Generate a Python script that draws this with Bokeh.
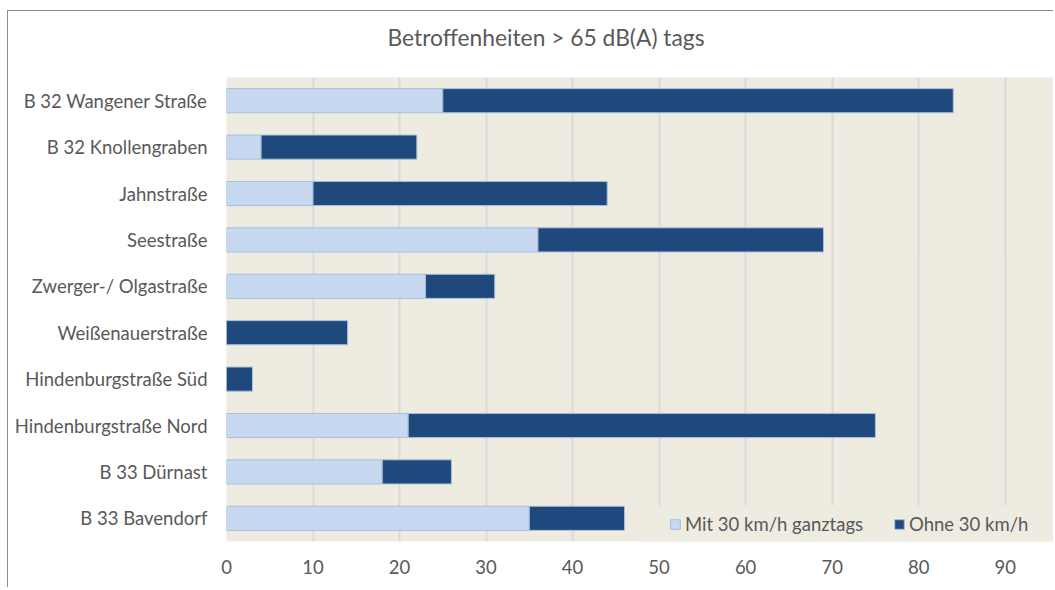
from bokeh.plotting import figure
from bokeh.models import Legend, FactorRange, Range1d, FixedTicker, BoxAnnotation, Title
from bokeh.embed import file_html
from bokeh.resources import INLINE

categories = ["B 32 Wangener Straße", "B 32 Knollengraben", "Jahnstraße", "Seestraße",
              "Zwerger-/ Olgastraße", "Weißenauerstraße", "Hindenburgstraße Süd",
              "Hindenburgstraße Nord", "B 33 Dürnast", "B 33 Bavendorf"]
mit_30 = [25, 4, 10, 36, 23, 0, 0, 21, 18, 35]
ohne_30 = [59, 18, 34, 33, 8, 14, 3, 54, 8, 11]
series = ["Mit 30 km/h ganztags", "Ohne 30 km/h"]
x_ticks = [0, 10, 20, 30, 40, 50, 60, 70, 80, 90]
title_text = "Betroffenheiten > 65 dB(A) tags"

FONT = "Lato"
TXT = "#595959"
BG = "#EEECE1"

data = {"cat": categories, "mit": mit_30, "ohne": ohne_30}

p = figure(width=1046, height=577, output_backend="svg", toolbar_location=None,
           y_range=FactorRange(*list(reversed(categories)), range_padding=0),
           x_range=Range1d(0, 95.7),
           min_border_left=218, min_border_top=64, min_border_bottom=47, min_border_right=0)
p.margin = (10, 0, 0, 7)
p.styles = {"border-left": "1px solid #8c8c8c", "border-top": "1px solid #8c8c8c",
            "box-sizing": "border-box"}

r = p.hbar_stack(["mit", "ohne"], y="cat", height=0.52, source=data,
                 color=["#C6D9F1", "#1F497D"], line_color="#A9BEDA", line_width=1)

p.background_fill_color = BG
p.border_fill_color = "white"
p.outline_line_color = None

spacer = Title(text=" ", text_font_size="1px", standoff=15)
p.add_layout(spacer, "above")
main_title = Title(text=title_text, text_font=FONT, text_font_size="22.8px",
                   text_font_style="normal", text_color=TXT, align="left",
                   offset=161, standoff=18)
p.add_layout(main_title, "above")

p.xgrid.grid_line_color = "#D9D9D9"
p.xgrid.grid_line_width = 2
p.ygrid.grid_line_color = None

p.xaxis.ticker = FixedTicker(ticks=x_ticks)
p.xaxis.axis_line_color = None
p.xaxis.major_tick_line_color = None
p.xaxis.major_tick_out = 0
p.xaxis.major_tick_in = 0
p.xaxis.minor_tick_line_color = None
p.xaxis.major_label_text_font = FONT
p.xaxis.major_label_text_font_size = "18.5px"
p.xaxis.major_label_text_color = TXT
p.xaxis.major_label_standoff = 18

p.yaxis.axis_line_color = None
p.yaxis.major_tick_line_color = None
p.yaxis.major_tick_out = 0
p.yaxis.major_tick_in = 0
p.yaxis.major_label_text_font = FONT
p.yaxis.major_label_text_font_size = "18.5px"
p.yaxis.major_label_text_color = TXT
p.yaxis.major_label_standoff = 19

box = BoxAnnotation(left=47.8, right=200, bottom=0, top=0.78,
                    fill_color=BG, fill_alpha=1, line_color=None)
p.add_layout(box)

legend = Legend(items=[(series[0], [r[0]]), (series[1], [r[1]])],
                orientation="horizontal", location=(443, 6),
                background_fill_alpha=0, border_line_color=None, label_text_font=FONT,
                label_text_font_size="18.5px", label_text_color=TXT,
                glyph_width=12, glyph_height=12, label_standoff=4, spacing=30,
                padding=0, margin=0)
p.add_layout(legend, "center")

open("out.html", "w").write(file_html(p, INLINE))
